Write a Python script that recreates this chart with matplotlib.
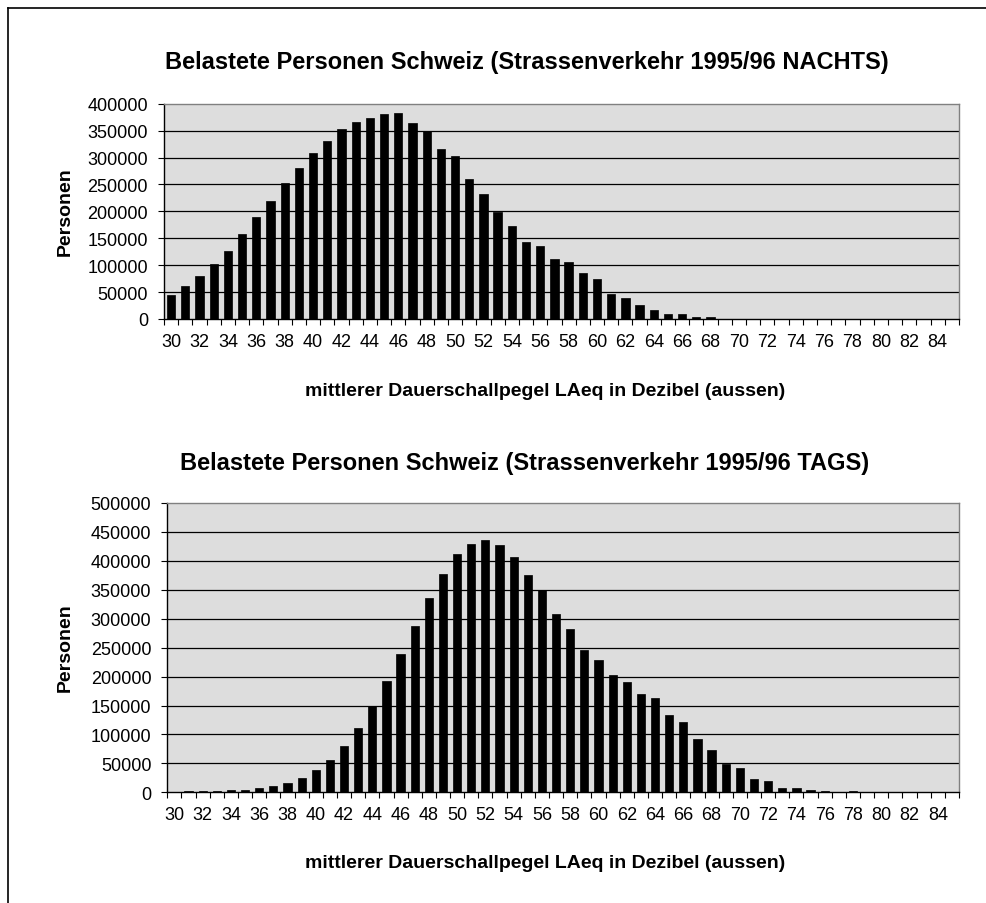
import numpy as np
import matplotlib
matplotlib.use("Agg")
import matplotlib.pyplot as plt
from matplotlib.lines import Line2D

plt.rcParams['font.family'] = ['Liberation Sans', 'DejaVu Sans']

# Dezibel-Klassen 30..85
pegel = list(range(30, 86))

# Nachts: belastete Personen pro dB-Klasse
nachts = [44000, 60700, 79900, 102800, 126900, 157300, 188900, 218600, 252000, 279900,
          307700, 330000, 352300, 365900, 374000, 380200, 382700, 363500, 349800, 315800,
          302800, 260700, 232800, 198100, 172100, 143700, 135600, 110800, 105300, 86100,
          74900, 47100, 39000, 25400, 16700, 8700, 8700, 3100, 3100, 0,
          0, 0, 0, 0, 0, 0, 0, 0, 0, 0,
          0, 0, 0, 0, 0, 0]

# Tags: belastete Personen pro dB-Klasse
tags = [800, 2300, 2300, 2900, 4000, 4600, 7500, 11000, 16700, 25400,
        38100, 56600, 80800, 110900, 148400, 192800, 239600, 287500, 336000, 377000,
        411100, 429600, 435900, 427800, 407000, 375900, 350500, 307700, 282900, 246000,
        228600, 202100, 190500, 169200, 162800, 133400, 121800, 92400, 73900, 49100,
        41600, 23700, 19100, 8100, 8100, 4000, 2900, 0, 2300, 0,
        0, 0, 0, 0, 0, 0]

titel = ["Belastete Personen Schweiz (Strassenverkehr 1995/96 NACHTS)",
         "Belastete Personen Schweiz (Strassenverkehr 1995/96 TAGS)"]
xlabel = "mittlerer Dauerschallpegel LAeq in Dezibel (aussen)"
ylabel = "Personen"

W, H = 986, 904
fig = plt.figure(figsize=(W / 100, H / 100), dpi=100)


def frac(x0, y0, x1, y1):
    # pixel box -> figure fractions
    return [x0 / W, 1 - y1 / H, (x1 - x0) / W, (y1 - y0) / H]


def draw(ax, werte, ymax):
    n = len(pegel)
    pos = np.arange(n)
    ax.bar(pos, werte, width=0.58, color='black', edgecolor='black', linewidth=0.5, zorder=3)
    ax.set_facecolor('#DDDDDD')
    ax.set_xlim(-0.5, n - 0.5)
    ax.set_ylim(0, ymax)
    yt = np.arange(0, ymax + 1, 50000)
    ax.set_yticks(yt)
    ax.set_yticklabels([str(int(v)) for v in yt], fontsize=13)
    for v in yt[1:-1]:
        ax.axhline(v, color='black', linewidth=0.9, zorder=1)
    ax.set_xticks(pos[::2])
    ax.set_xticklabels([str(p) for p in pegel[::2]], fontsize=13)
    ax.set_xticks(np.arange(-0.5, n), minor=True)
    ax.tick_params(axis='x', which='major', length=0, pad=10)
    ax.tick_params(axis='x', which='minor', length=4.5, width=0.8, direction='out')
    ax.tick_params(axis='y', length=4.5, width=0.8, pad=7)
    for s in ['left', 'bottom']:
        ax.spines[s].set_color('black')
        ax.spines[s].set_linewidth(1.0)
    for s in ['top', 'right']:
        ax.spines[s].set_color('#808080')
        ax.spines[s].set_linewidth(1.0)


ax1 = fig.add_axes(frac(164, 104.7, 959, 320))
draw(ax1, nachts, 400000)
ax2 = fig.add_axes(frac(167.3, 504, 959, 793.3))
draw(ax2, tags, 500000)

fig.text(527 / W, 1 - 63 / H, titel[0], ha='center', va='center', fontsize=17, fontweight='bold')
fig.text(525 / W, 1 - 464 / H, titel[1], ha='center', va='center', fontsize=17, fontweight='bold')
fig.text(545 / W, 1 - 392 / H, xlabel, ha='center', va='center', fontsize=14, fontweight='bold')
fig.text(545 / W, 1 - 864 / H, xlabel, ha='center', va='center', fontsize=14, fontweight='bold')
fig.text(65 / W, 1 - 212 / H, ylabel, ha='center', va='center', rotation=90, fontsize=14, fontweight='bold')
fig.text(65 / W, 1 - 648 / H, ylabel, ha='center', va='center', rotation=90, fontsize=14, fontweight='bold')

# Rahmen oben und links
fig.add_artist(Line2D([8 / W, 1], [1 - 9 / H, 1 - 9 / H], color='black', linewidth=1.2))
fig.add_artist(Line2D([8 / W, 8 / W], [0, 1 - 9 / H], color='black', linewidth=1.2))

fig.savefig("out.png", dpi=100)
